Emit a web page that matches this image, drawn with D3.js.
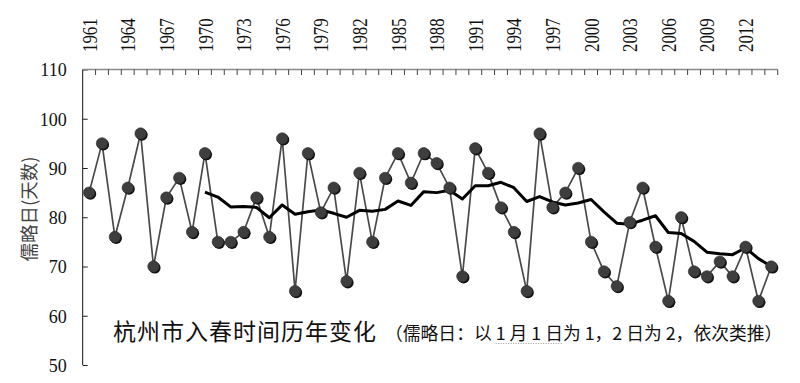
<!DOCTYPE html>
<html><head><meta charset="utf-8">
<script src="https://cdn.jsdelivr.net/npm/d3@7"></script>
<style>body{margin:0;background:#fff}svg{display:block}</style>
</head><body>
<svg id="c" width="800" height="383"></svg>
<script>
const years = d3.range(1961, 2015);
const julianDay = [85,95,76,86,97,70,84,88,77,93,
  75,75,77,84,76,96,65,93,81,86,
  67,89,75,88,93,87,93,91,86,68,
  94,89,82,77,65,97,82,85,90,75,
  69,66,79,86,74,63,80,69,68,71,
  68,74,63,70];
const maYears = d3.range(1970, 2015);
const movingAvg = [85.1,84.1,82.1,82.2,82.0,79.9,82.5,80.6,81.1,81.5,
  80.8,80.0,81.4,81.2,81.6,83.3,82.4,85.2,85.0,85.5,
  83.7,86.4,86.4,87.1,86.0,83.2,84.2,83.1,82.5,82.9,
  83.6,81.1,78.8,78.6,79.4,80.3,76.9,76.7,75.1,72.9,
  72.6,72.4,73.8,71.6,70.0];
const yTicks = [50,60,70,80,90,100,110];
const yearLabels = d3.range(1961, 2013, 3);
const yTitle = "儒略日(天数)";
const titleMain = "杭州市入春时间历年变化";
const titleNote = "（儒略日：以 1 月 1 日为 1，2 日为 2，依次类推）";

const svg = d3.select("#c");
const L = 82.7, R = 777.7, T = 69.5, B = 365;
const x = d3.scaleBand().domain(years).range([L, R]);
const cx = d => x(d) + x.bandwidth()/2;
const y = d3.scaleLinear().domain([50, 110]).range([B, T]);

// y axis
const yAx = svg.append("g").attr("transform", `translate(${L},0)`)
  .call(d3.axisLeft(y).tickValues(yTicks).tickSize(-5).tickPadding(20).tickFormat(d3.format("d")));
yAx.select(".domain").attr("stroke", "#111").attr("d", `M0,${T}V${B}`);
yAx.selectAll(".tick line").attr("stroke", "#222");
yAx.selectAll(".tick text").attr("font-family", "'Liberation Serif','Times New Roman',serif")
  .attr("font-size", 18).attr("fill", "#111").attr("x", -16).attr("dy", "0.36em");

// top category axis
const xAx = svg.append("g").attr("transform", `translate(0,${T})`);
xAx.append("line").attr("x1", L).attr("x2", R).attr("y1", 0).attr("y2", 0)
  .attr("stroke", "#8a8a8a").attr("stroke-width", 1.3);
const bounds = years.map(d => x(d)).concat([R]);
xAx.selectAll("line.tk").data(bounds.slice(1)).join("line").attr("class", "tk")
  .attr("x1", d => d).attr("x2", d => d).attr("y1", 0).attr("y2", 5.5)
  .attr("stroke", "#444").attr("stroke-width", 1);
svg.append("g").selectAll("text").data(yearLabels).join("text")
  .attr("transform", d => `translate(${cx(d)},52) rotate(-90) scale(1,1.25)`)
  .attr("dy", "0.36em")
  .attr("font-family", "'Liberation Serif','Times New Roman',serif")
  .attr("font-size", 16.8).attr("fill", "#111")
  .text(d => d);

// y title
svg.append("text").attr("transform", "translate(29,209) rotate(-90)")
  .attr("text-anchor", "middle").attr("dy", "0.36em")
  .attr("font-family", "'Noto Sans CJK SC',sans-serif").attr("font-size", 18.5)
  .attr("fill", "#444").text(yTitle);

// data line
const line = d3.line().x((d, i) => cx(years[i])).y(d => y(d));
svg.append("path").datum(julianDay).attr("d", line)
  .attr("fill", "none").attr("stroke", "#4a4a4a").attr("stroke-width", 1.7);

// moving average
const maLine = d3.line().x((d, i) => cx(maYears[i])).y(d => y(d));
svg.append("path").datum(movingAvg).attr("d", maLine)
  .attr("fill", "none").attr("stroke", "#000").attr("stroke-width", 3)
  .attr("stroke-linejoin", "round");

// markers
const mk = svg.append("g");
mk.selectAll("circle.s").data(julianDay).join("circle").attr("class", "s")
  .attr("cx", (d, i) => cx(years[i]) + 1.3).attr("cy", d => y(d) + 1.3).attr("r", 5.8)
  .attr("fill", "#111");
mk.selectAll("circle.m").data(julianDay).join("circle").attr("class", "m")
  .attr("cx", (d, i) => cx(years[i])).attr("cy", d => y(d)).attr("r", 5.7)
  .attr("fill", "#3e3e3e").attr("stroke", "#2a2a2a").attr("stroke-width", 0.6);

// title
const tt = svg.append("text").attr("x", 113).attr("y", 340)
  .attr("font-family", "'Noto Sans CJK SC',sans-serif").attr("fill", "#111");
tt.append("tspan").attr("font-size", 23).attr("letter-spacing", 1).text(titleMain);
tt.append("tspan").attr("font-size", 17.8).attr("dx", 8).text(titleNote);
// dotted underline under "1 月 1 日"
const full = titleMain + titleNote;
const i0 = full.indexOf("1 月");
const i1 = full.indexOf("日为 1");
const node = tt.node();
const ux0 = node.getStartPositionOfChar(i0).x;
const ux1 = node.getEndPositionOfChar(i1).x;
svg.append("line").attr("x1", ux0).attr("x2", ux1).attr("y1", 343.5).attr("y2", 343.5)
  .attr("stroke", "#999").attr("stroke-width", 1).attr("stroke-dasharray", "1,1.5");
</script>
</body></html>
